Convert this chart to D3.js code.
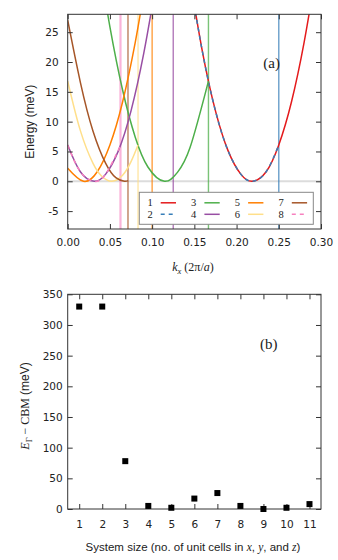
<!DOCTYPE html>
<html>
<head>
<meta charset="utf-8">
<script src="https://cdn.jsdelivr.net/npm/d3@7"></script>
<style>
  body { margin: 0; background: #fff; }
  .tick text { font-family: "DejaVu Sans", sans-serif; font-size: 10.5px; fill: #222; }
  .tick line { stroke: #333; }
</style>
</head>
<body>
<div id="chart"></div>
<script>
// Panel (a): folded conduction bands, [k_x, E] pairs
const systemLabels = ["1", "2", "3", "4", "5", "6", "7", "8"];
const bandN1 = [[0.145, 33.7], [0.160, 21.4], [0.175, 11.8], [0.190, 5.1], [0.205, 1.2], [0.2187, 0],
                [0.235, 1.6], [0.250, 6.1], [0.265, 13.3], [0.280, 23.3], [0.292, 33.3]];
const bandN2 = [[0.145, 33.7], [0.160, 21.4], [0.175, 11.8], [0.190, 5.1], [0.205, 1.2], [0.2187, 0],
                [0.235, 1.6], [0.250, 6.1]];
const bandN3 = [[0.040, 34.5], [0.050, 25.9], [0.065, 15.3], [0.080, 7.4], [0.095, 2.4], [0.1146, 0],
                [0.130, 1.5], [0.145, 5.7], [0.1667, 16.8]];
const bandN4 = [[0.000, 6.1], [0.015, 1.6], [0.0313, 0], [0.045, 1.2], [0.060, 5.1], [0.075, 11.8],
                [0.090, 21.4], [0.102, 31.0]];
const bandN5 = [[0.000, 2.2], [0.0187, 0], [0.035, 1.6], [0.050, 6.1], [0.065, 13.3], [0.080, 23.3],
                [0.090, 31.5]];
const bandN6 = [[0.000, 16.8], [0.015, 8.5], [0.030, 3.0], [0.040, 0.9], [0.052, 0], [0.065, 1.0],
                [0.075, 3.3], [0.0833, 6.1]];
const bandN7 = [[0.000, 27.0], [0.015, 16.6], [0.030, 8.4], [0.045, 3.0], [0.057, 0.6], [0.0671, 0],
                [0.0714, 0.1]];
const bandN8 = [[0.000, 6.1], [0.015, 1.6], [0.0313, 0], [0.045, 1.2], [0.0625, 6.0]];
const bands = [bandN1, bandN2, bandN3, bandN4, bandN5, bandN6, bandN7, bandN8];
// zone boundaries (vertical lines), one per system size
const zoneEdges = [0.5, 0.25, 0.1667, 0.125, 0.1, 0.0833, 0.0714, 0.0625];
const kTicks = [0, 0.05, 0.10, 0.15, 0.20, 0.25, 0.30];
const eTicks = [-5, 0, 5, 10, 15, 20, 25];

// Panel (b): E_Gamma - CBM versus system size
const systemSizes = [1, 2, 3, 4, 5, 6, 7, 8, 9, 10, 11];
const gammaMinusCbm = [330, 330, 78, 5, 2, 17, 26, 5, 0, 2, 8];
const diffTicks = [0, 50, 100, 150, 200, 250, 300, 350];

const colors = ["#e41a1c", "#377eb8", "#4daf4a", "#984ea3", "#ff7f00", "#ffdf8a", "#a65628", "#f781bf"];
const dashed = [false, true, false, false, false, false, false, true];

const svg = d3.select("#chart").append("svg")
  .attr("width", 338).attr("height", 560);

const left = 67.7, right = 321;

// ---------- panel (a) ----------
const xa = d3.scaleLinear().domain([0, 0.3]).range([left, right]);
const ya = d3.scaleLinear().domain([-8, 28]).range([229, 14.3]);

svg.append("clipPath").attr("id", "clipA")
  .append("rect")
  .attr("x", left).attr("y", ya(28))
  .attr("width", right - left).attr("height", ya(-8) - ya(28));

const gA = svg.append("g").attr("clip-path", "url(#clipA)");

// zero line
gA.append("line")
  .attr("x1", left).attr("x2", right)
  .attr("y1", ya(0)).attr("y2", ya(0))
  .attr("stroke", "#dcdcdc").attr("stroke-width", 2);

// zone boundaries
gA.selectAll(".edge")
  .data(zoneEdges)
  .enter()
  .append("line")
  .attr("class", "edge")
  .attr("x1", d => xa(d)).attr("x2", d => xa(d))
  .attr("y1", ya(-8)).attr("y2", ya(28))
  .attr("stroke", (d, i) => colors[i])
  .attr("stroke-opacity", (d, i) => i === 7 ? 0.6 : 0.75)
  .attr("stroke-width", (d, i) => i === 7 ? 2.2 : 1.4);

const line = d3.line()
  .x(d => xa(d[0]))
  .y(d => ya(d[1]))
  .curve(d3.curveNatural);

gA.selectAll(".band")
  .data(bands)
  .enter()
  .append("path")
  .attr("class", "band")
  .attr("d", line)
  .attr("fill", "none")
  .attr("stroke", (d, i) => colors[i])
  .attr("stroke-width", 1.5)
  .attr("stroke-dasharray", (d, i) => dashed[i] ? "4,4" : null);

// axes, ticks inside on all four sides
svg.append("g")
  .attr("transform", `translate(0,${ya(-8)})`)
  .call(d3.axisBottom(xa).tickValues(kTicks).tickFormat(d3.format(".2f"))
    .tickSize(-5).tickSizeOuter(0).tickPadding(10))
  .call(g => g.select(".domain").remove());
svg.append("g")
  .attr("transform", `translate(0,${ya(28)})`)
  .call(d3.axisTop(xa).tickValues(kTicks).tickFormat("")
    .tickSize(-5).tickSizeOuter(0))
  .call(g => g.select(".domain").remove());
svg.append("g")
  .attr("transform", `translate(${left},0)`)
  .call(d3.axisLeft(ya).tickValues(eTicks).tickFormat(d => String(d))
    .tickSize(-5).tickSizeOuter(0).tickPadding(9))
  .call(g => g.select(".domain").remove());
svg.append("g")
  .attr("transform", `translate(${right},0)`)
  .call(d3.axisRight(ya).tickValues(eTicks).tickFormat("").tickSize(-5).tickSizeOuter(0))
  .call(g => g.select(".domain").remove());

svg.append("rect")
  .attr("x", left).attr("y", ya(28))
  .attr("width", right - left).attr("height", ya(-8) - ya(28))
  .attr("fill", "none").attr("stroke", "#333").attr("stroke-width", 1);

// legend
const legend = svg.append("g");
legend.append("rect")
  .attr("x", 139.3).attr("y", 192.3)
  .attr("width", 174).attr("height", 32)
  .attr("fill", "#fff").attr("stroke", "#888").attr("stroke-width", 1);
const item = legend.selectAll(".item")
  .data(systemLabels)
  .enter()
  .append("g")
  .attr("class", "item")
  .attr("transform", (d, i) => `translate(${150 + Math.floor(i / 2) * 43.7},${202.8 + (i % 2) * 11.5})`);
item.append("text")
  .attr("text-anchor", "middle")
  .attr("dy", "0.35em")
  .attr("font-family", "Liberation Serif, serif")
  .attr("font-size", 10.5)
  .attr("fill", "#222")
  .text(d => d);
item.append("line")
  .attr("x1", 10.7).attr("x2", 26)
  .attr("stroke", (d, i) => colors[i])
  .attr("stroke-width", 1.5)
  .attr("stroke-dasharray", (d, i) => dashed[i] ? "4,4" : null);

svg.append("text")
  .attr("x", 271.7).attr("y", 62.3).attr("dy", "0.35em")
  .attr("text-anchor", "middle")
  .attr("font-family", "Liberation Serif, serif").attr("font-size", 15).attr("fill", "#222")
  .text("(a)");

svg.append("text")
  .attr("transform", `translate(30,${(ya(28) + ya(-8)) / 2}) rotate(-90)`)
  .attr("dy", "0.35em")
  .attr("text-anchor", "middle")
  .attr("font-family", "Liberation Sans, sans-serif").attr("font-size", 12).attr("fill", "#222")
  .text("Energy (meV)");

const kLabel = svg.append("text")
  .attr("x", 193).attr("y", 271)
  .attr("text-anchor", "middle")
  .attr("font-family", "Liberation Serif, serif").attr("font-size", 12).attr("fill", "#222");
kLabel.append("tspan").attr("font-style", "italic").text("k");
kLabel.append("tspan").attr("font-style", "italic").attr("font-size", 8.5).attr("dy", 2.5).text("x");
kLabel.append("tspan").attr("dy", -2.5).text(" (2π/");
kLabel.append("tspan").attr("font-style", "italic").text("a");
kLabel.append("tspan").text(")");

// ---------- panel (b) ----------
const xb = d3.scaleLinear().domain([0.5, 11.5]).range([left, right]);
const yb = d3.scaleLinear().domain([0, 350]).range([509, 294.3]);

svg.append("g")
  .attr("transform", `translate(0,${yb(0)})`)
  .call(d3.axisBottom(xb).tickValues(systemSizes).tickFormat(d3.format("d"))
    .tickSize(-5).tickSizeOuter(0).tickPadding(12))
  .call(g => g.select(".domain").remove());
svg.append("g")
  .attr("transform", `translate(0,${yb(350)})`)
  .call(d3.axisTop(xb).tickValues(systemSizes).tickFormat("").tickSize(-5).tickSizeOuter(0))
  .call(g => g.select(".domain").remove());
svg.append("g")
  .attr("transform", `translate(${left},0)`)
  .call(d3.axisLeft(yb).tickValues(diffTicks).tickSize(-5).tickSizeOuter(0).tickPadding(5))
  .call(g => g.select(".domain").remove());
svg.append("g")
  .attr("transform", `translate(${right},0)`)
  .call(d3.axisRight(yb).tickValues(diffTicks).tickFormat("").tickSize(-5).tickSizeOuter(0))
  .call(g => g.select(".domain").remove());

svg.append("rect")
  .attr("x", left).attr("y", yb(350))
  .attr("width", right - left).attr("height", yb(0) - yb(350))
  .attr("fill", "none").attr("stroke", "#333").attr("stroke-width", 1);

svg.selectAll(".pt")
  .data(systemSizes)
  .enter()
  .append("rect")
  .attr("class", "pt")
  .attr("x", (d, i) => xb(d) - 3)
  .attr("y", (d, i) => yb(gammaMinusCbm[i]) - 3)
  .attr("width", 6).attr("height", 6)
  .attr("fill", "#000");

svg.append("text")
  .attr("x", 268.7).attr("y", 344).attr("dy", "0.35em")
  .attr("text-anchor", "middle")
  .attr("font-family", "Liberation Serif, serif").attr("font-size", 15).attr("fill", "#222")
  .text("(b)");

const yLabelB = svg.append("text")
  .attr("transform", `translate(25,406) rotate(-90)`)
  .attr("dy", "0.35em")
  .attr("text-anchor", "middle")
  .attr("font-family", "Liberation Serif, serif").attr("font-size", 12).attr("fill", "#222");
yLabelB.append("tspan").attr("font-style", "italic").text("E");
yLabelB.append("tspan").attr("font-size", 8.5).attr("dy", 2.5).text("Γ");
yLabelB.append("tspan").attr("dy", -2.5).text(" − CBM ");
yLabelB.append("tspan").attr("font-family", "Liberation Sans, sans-serif").text("(meV)");

const xLabelB = svg.append("text")
  .attr("x", 193).attr("y", 550.5)
  .attr("text-anchor", "middle")
  .attr("font-family", "Liberation Sans, sans-serif").attr("font-size", 11.5).attr("fill", "#222");
xLabelB.append("tspan").text("System size (no. of unit cells in ");
xLabelB.append("tspan").attr("font-family", "Liberation Serif, serif").attr("font-style", "italic").text("x");
xLabelB.append("tspan").text(", ");
xLabelB.append("tspan").attr("font-family", "Liberation Serif, serif").attr("font-style", "italic").text("y");
xLabelB.append("tspan").text(", and ");
xLabelB.append("tspan").attr("font-family", "Liberation Serif, serif").attr("font-style", "italic").text("z");
xLabelB.append("tspan").text(")");
</script>
</body>
</html>
